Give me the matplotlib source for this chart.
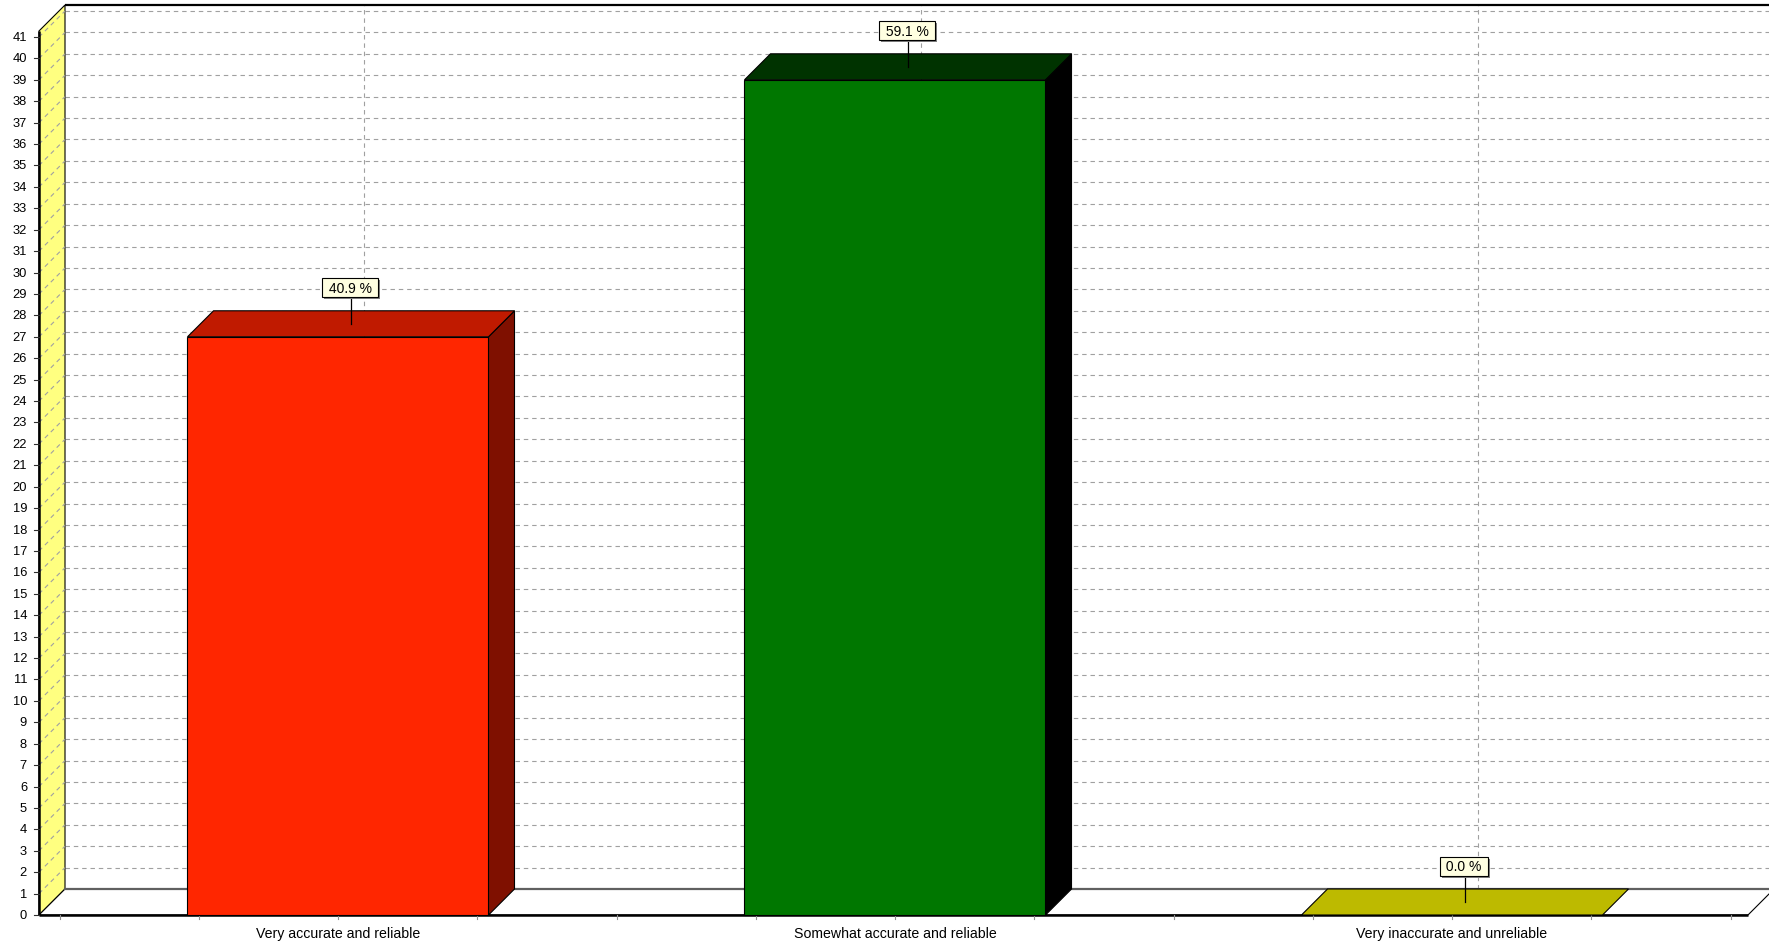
import matplotlib
matplotlib.use("Agg")
import matplotlib.pyplot as plt
from matplotlib.patches import Polygon, Rectangle
from matplotlib import patheffects as pe

# ---- data ----
categories = ["Very accurate and reliable", "Somewhat accurate and reliable", "Very inaccurate and unreliable"]
values = [27, 39, 0]
pct_labels = ["40.9 %", "59.1 %", "0.0 %"]
yticks = list(range(0, 42))

front_colors = ["#FF2600", "#007700", "#BDBA00"]
top_colors = ["#C01A00", "#003300", "#BDBA00"]
side_colors = ["#7F1000", "#000000", "#8A8800"]

# ---- geometry (pixel scale helpers) ----
PX = 1 / 557.0      # one pixel in x data units
PY = 1 / 21.415     # one pixel in y data units
DX, DY = 26 * PX, 26 * PY   # 3D depth offset
X0, X1 = -0.5368, 2.5314    # front floor extent
YMAX = 41.28
BW = 0.5404                 # bar width

fig = plt.figure(figsize=(17.69, 9.45), dpi=100)
ax = fig.add_axes([0, 0, 1, 1])
ax.set_xlim(-338 * PX, (1769 - 338) * PX)
ax.set_ylim(-29 * PY, 916 * PY)
ax.axis("off")

FONT = "Liberation Sans"
grid_kw = dict(color="#A0A0A0", lw=0.8, linestyle=(0, (4, 3.5)))

# back wall
ax.add_patch(Rectangle((X0 + DX, DY), 10, YMAX, facecolor="white", edgecolor="none", zorder=0))
ax.plot([X0 + DX, 10], [YMAX + DY, YMAX + DY], color="black", lw=1.6, zorder=3, solid_capstyle="butt")

# horizontal gridlines on back wall + diagonals on side wall
for v in yticks[1:]:
    ax.plot([X0 + DX, 10], [v + DY, v + DY], zorder=1, **grid_kw)
    ax.plot([X0, X0 + DX], [v, v + DY], zorder=3, **grid_kw)

# vertical gridlines at category centres on the back wall
for i in range(len(categories)):
    ax.plot([i + DX, i + DX], [DY, YMAX + DY], zorder=1, **grid_kw)

# side wall (yellow)
ax.add_patch(Polygon([(X0, 0), (X0 + DX, DY), (X0 + DX, YMAX + DY), (X0, YMAX)], closed=True,
                     facecolor="#FFFF80", edgecolor="black", lw=0.8, zorder=2))

# floor
ax.add_patch(Polygon([(X0, 0), (X1, 0), (X1 + DX, DY), (X0 + DX, DY)], closed=True,
                     facecolor="white", edgecolor="black", lw=0.8, zorder=2))
ax.plot([X0 + DX, 10], [DY, DY], color="#606060", lw=1.6, zorder=3)
ax.plot([X0, X1], [0, 0], color="black", lw=1.8, zorder=3, solid_capstyle="butt")
ax.plot([X0, X0], [0, YMAX], color="black", lw=1.8, zorder=3, solid_capstyle="butt")

# y ticks and labels
for v in yticks:
    ax.plot([X0 - 5 * PX, X0], [v, v], color="#303030", lw=0.8, zorder=3)
    ax.text(X0 - 12 * PX, v, str(v), ha="right", va="center", fontsize=9.3,
            family=FONT, color="black")

# x ticks (quarter category intervals)
k = 0
while -0.5 + 0.25 * k <= X1:
    xt = -0.5 + 0.25 * k
    ax.plot([xt, xt], [0, -4 * PY], color="#909090", lw=0.8, zorder=3)
    k += 1

# category labels
for i, c in enumerate(categories):
    ax.text(i, -18 * PY, c, ha="center", va="center", fontsize=10.2, family=FONT, color="black")

# bars
for i, v in enumerate(values):
    l, r = i - BW / 2, i + BW / 2
    if v > 0:
        ax.add_patch(Rectangle((l, 0), BW, v, facecolor=front_colors[i], edgecolor="black",
                               lw=0.8, zorder=5))
        ax.add_patch(Polygon([(r, 0), (r + DX, DY), (r + DX, v + DY), (r, v)], closed=True,
                             facecolor=side_colors[i], edgecolor="black", lw=0.8, zorder=5))
    ax.add_patch(Polygon([(l, v), (r, v), (r + DX, v + DY), (l + DX, v + DY)], closed=True,
                         facecolor=top_colors[i], edgecolor="black", lw=0.8, zorder=5))

    # value label box with leader line
    axp, ayp = i + DX / 2, v + DY / 2
    ax.plot([axp, axp], [ayp, ayp + 26 * PY], color="black", lw=0.9, zorder=6)
    t = ax.text(axp - 1 * PX, ayp + 36 * PY, " " + pct_labels[i] + " ", ha="center", va="center",
                fontsize=10, family=FONT, color="black", zorder=7,
                bbox=dict(boxstyle="square,pad=0.18", facecolor="#FFFFE1", edgecolor="black", lw=0.8))
    t.get_bbox_patch().set_path_effects([
        pe.withSimplePatchShadow(offset=(1.5, -1.5), shadow_rgbFace="#808080", alpha=1.0)])

fig.savefig("out.png", dpi=100)
